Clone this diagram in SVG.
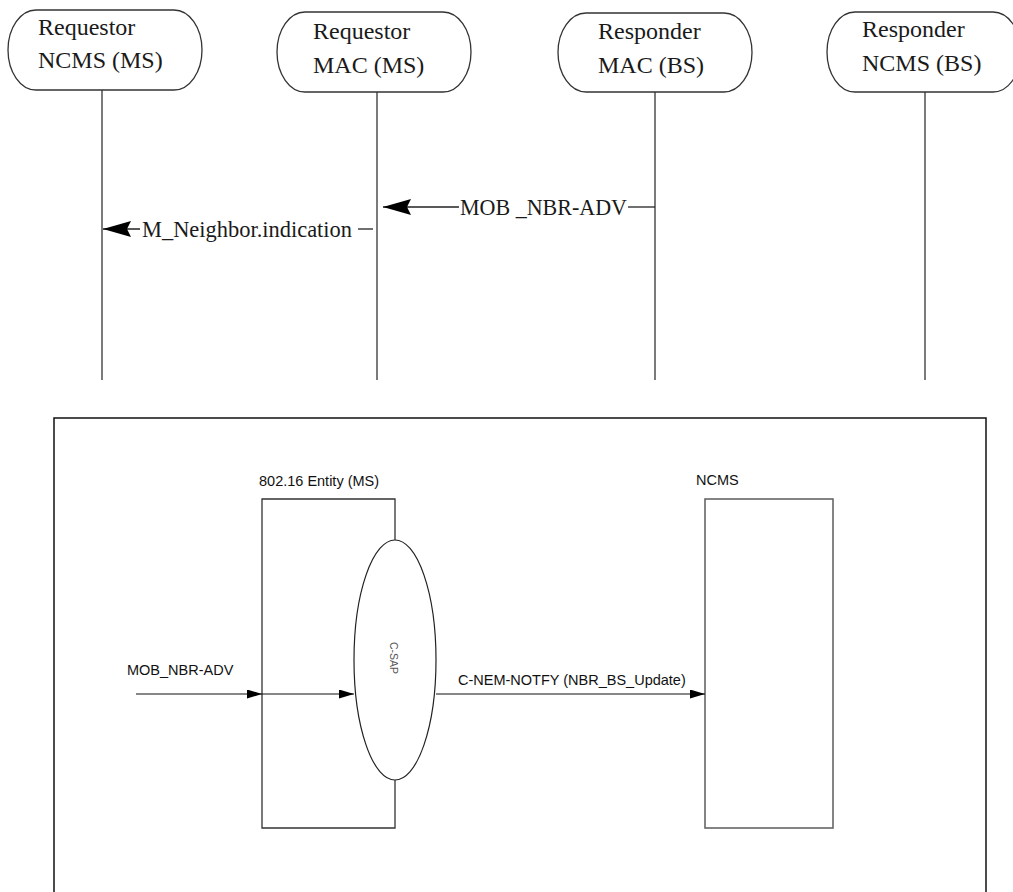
<svg xmlns="http://www.w3.org/2000/svg" width="1013" height="892" viewBox="0 0 1013 892">
<style>
.bg{fill:#ffffff}
.stadium{fill:#ffffff;stroke:#333333;stroke-width:1.3}
.life{stroke:#333333;stroke-width:1.3;fill:none}
.ser{font-family:"Liberation Serif","Times New Roman",serif;font-size:24px;fill:#1a1a1a}
.msg{stroke:#222222;stroke-width:1.3;fill:none}
.box{fill:none;stroke:#111111;stroke-width:1.5}
.ent{fill:none;stroke:#333333;stroke-width:1.3}
.ncms{fill:none;stroke:#666666;stroke-width:1.6}
.sans{font-family:"Liberation Sans",Arial,sans-serif;font-size:14.5px;fill:#111111}
.sap{font-family:"Liberation Sans",Arial,sans-serif;font-size:10.5px;fill:#555555}
.arr{stroke:#111111;stroke-width:1.2;fill:none}
</style>
<defs>
<marker id="bigHead" markerUnits="userSpaceOnUse" markerWidth="28" markerHeight="16" viewBox="0 0 28 16" refX="28" refY="8" orient="auto">
<path d="M0,0 L28,8 L0,16 L4,8 z" fill="#000000"/>
</marker>
<marker id="smallHead" markerUnits="userSpaceOnUse" markerWidth="15" markerHeight="9" viewBox="0 0 15 9" refX="15" refY="4.5" orient="auto">
<path d="M0,0 L15,4.5 L0,9 z" fill="#000000"/>
</marker>
</defs>
<rect class="bg" x="0" y="0" width="1013" height="892"/>

<g id="requestor-ncms-ms">
<rect class="stadium" x="8" y="10" width="194" height="80" rx="28" ry="40"/>
<line class="life" x1="102" y1="90" x2="102" y2="380"/>
<text class="ser" x="38" y="35">Requestor</text>
<text class="ser" x="38" y="68">NCMS (MS)</text>
</g>
<g id="requestor-mac-ms">
<rect class="stadium" x="277" y="12" width="194" height="80" rx="28" ry="40"/>
<line class="life" x1="377" y1="92" x2="377" y2="380"/>
<text class="ser" x="313" y="39">Requestor</text>
<text class="ser" x="313" y="73">MAC (MS)</text>
</g>
<g id="responder-mac-bs">
<rect class="stadium" x="558" y="13" width="194" height="79" rx="28" ry="40"/>
<line class="life" x1="655" y1="92" x2="655" y2="380"/>
<text class="ser" x="598" y="39">Responder</text>
<text class="ser" x="598" y="73">MAC (BS)</text>
</g>
<g id="responder-ncms-bs">
<rect class="stadium" x="827" y="12" width="194" height="80" rx="28" ry="40"/>
<line class="life" x1="925" y1="92" x2="925" y2="380"/>
<text class="ser" x="862" y="37">Responder</text>
<text class="ser" x="862" y="71">NCMS (BS)</text>
</g>

<g id="sequence-messages">
<path class="msg" d="M655,207 H628"/>
<path class="msg" d="M459,207 H383" marker-end="url(#bigHead)"/>
<text class="ser" x="460" y="215" textLength="167" lengthAdjust="spacingAndGlyphs">MOB _NBR-ADV</text>
<path class="msg" d="M373,229 H358"/>
<path class="msg" d="M140,229 H103" marker-end="url(#bigHead)"/>
<text class="ser" x="142" y="237" textLength="210" lengthAdjust="spacingAndGlyphs">M_Neighbor.indication</text>
</g>

<g id="frame">
<rect class="box" x="54" y="418" width="932" height="490"/>
</g>

<g id="entity-ms">
<path class="ent" d="M395,540 V499 H262 V828 H395 V780"/>
<text class="sans" x="259" y="486">802.16 Entity (MS)</text>
</g>

<g id="c-sap">
<ellipse cx="395" cy="660" rx="41" ry="120" fill="#ffffff" stroke="#222222" stroke-width="1.2"/>
<text class="sap" x="0" y="0" text-anchor="middle" transform="translate(390,658) rotate(90)">C-SAP</text>
</g>

<g id="ncms">
<rect class="ncms" x="705" y="499" width="128" height="329"/>
<text class="sans" x="696" y="485">NCMS</text>
</g>

<g id="connectors">
<line class="arr" x1="136" y1="694" x2="262" y2="694" marker-end="url(#smallHead)"/>
<line class="arr" x1="262" y1="694" x2="354" y2="694" marker-end="url(#smallHead)"/>
<line class="arr" x1="436" y1="694" x2="705" y2="694" marker-end="url(#smallHead)"/>
<text class="sans" x="127" y="675">MOB_NBR-ADV</text>
<text class="sans" x="458" y="685">C-NEM-NOTFY (NBR_BS_Update)</text>
</g>
</svg>
